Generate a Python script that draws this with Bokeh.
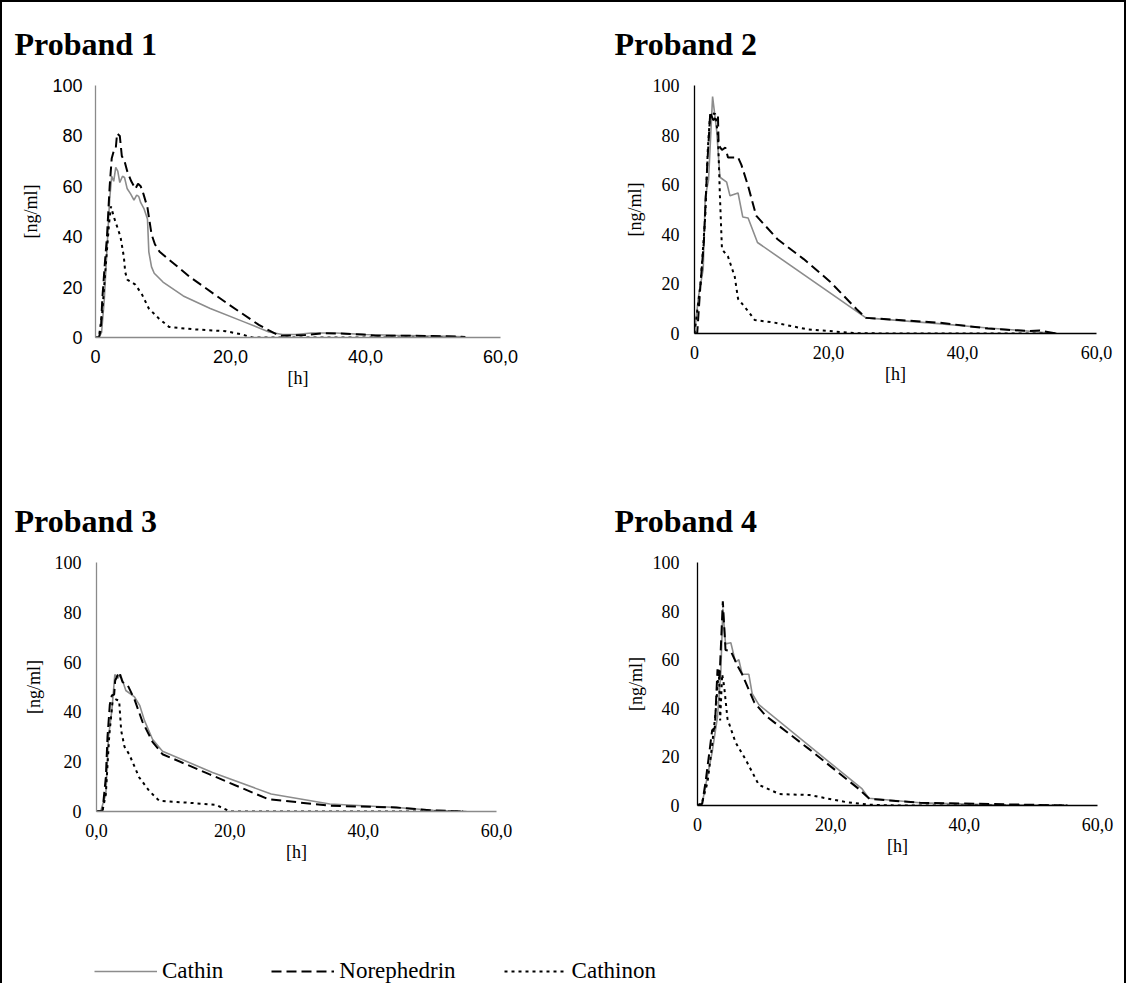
from bokeh.plotting import figure
from bokeh.layouts import column, row
from bokeh.models import FixedTicker, Legend, LegendItem
from bokeh.embed import file_html
from bokeh.resources import INLINE

# ---------------- data ----------------
x_ticks = [0, 20, 40, 60]
x_tick_labels = ["0", "20,0", "40,0", "60,0"]
x_tick_labels_p3 = ["0,0", "20,0", "40,0", "60,0"]
y_ticks = [0, 20, 40, 60, 80, 100]
series_names = ["Cathin", "Norephedrin", "Cathinon"]
panel_titles = ["Proband 1", "Proband 2", "Proband 3", "Proband 4"]

# Proband 1
p1_cathin_t = [0, 0.5, 0.9, 1.3, 1.7, 2.1, 2.4, 2.7, 3.0, 3.3, 3.6, 4.0, 4.3, 4.7, 5.2, 5.7, 6.1, 6.4, 6.7, 7.2, 7.7, 7.9, 8.3, 8.7, 10, 13, 17, 22, 25.7, 27.7, 29.6, 32, 35.6, 40, 44.4, 48, 52, 54.6]
p1_cathin_v = [0, 0, 2, 15, 35, 55, 64, 62, 67.5, 66, 61.5, 64, 63.5, 59, 57, 54.5, 56.5, 56, 53.5, 51, 47, 34, 28, 25.5, 22, 16.5, 11.5, 6.2, 2.2, 1.2, 1.2, 1.8, 1.8, 1.2, 0.9, 0.7, 0.5, 0.3]
p1_nore_t = [0, 0.5, 0.8, 1.0, 1.4, 1.7, 2.1, 2.4, 2.7, 3.0, 3.2, 3.6, 3.9, 4.3, 4.7, 5.3, 5.9, 6.3, 6.7, 7.1, 7.7, 8.3, 8.8, 9.5, 14, 19.8, 24.2, 27.2, 31, 34, 37, 39.5, 41.5, 46, 50, 52, 54.8]
p1_nore_v = [0, 0, 3, 15, 30, 40, 60, 71, 74, 75, 81, 80, 72, 70, 66, 62, 59, 61, 60, 57, 51.5, 41, 37, 34, 24, 13, 5, 0.7, 1, 1.7, 1.5, 1.2, 0.7, 0.7, 0.6, 0.5, 0.2]
p1_cathinon_t = [0, 0.5, 1.0, 1.5, 2.0, 2.3, 2.7, 3.7, 4.2, 4.4, 4.7, 5.9, 6.9, 7.9, 9.4, 10.9, 14.3, 19.3, 21.7, 23.2, 30, 40, 50, 54.6]
p1_cathinon_v = [0, 0, 10, 28, 45, 52, 48, 40, 32, 26, 23, 21, 17, 11.5, 7.5, 4.2, 3.3, 2.5, 1.2, 0, 0, 0, 0, 0]

# Proband 2
p2_cathin_t = [0, 0.6, 1.3, 1.6, 2.1, 2.7, 3.3, 3.8, 4.8, 5.3, 6.5, 7.2, 8.0, 9.4, 25.6, 36.4, 43.8, 48.7, 54]
p2_cathin_v = [0, 15, 26, 55, 62, 95.5, 82, 63, 61, 55.5, 56.7, 47, 46.6, 36.7, 6.3, 4, 2.2, 1.2, 0]
p2_nore_t = [0, 0.4, 0.9, 1.4, 1.9, 2.35, 2.8, 3.5, 3.6, 4.1, 4.6, 5.0, 6.5, 7.0, 8.0, 9.2, 12.4, 16.3, 20.2, 24.2, 25.6, 36.4, 43.8, 49.7, 51.5, 54]
p2_nore_v = [0, 0, 20, 37, 68, 89, 86, 88, 76, 74, 75, 71, 71, 68, 59.5, 47.5, 38, 30, 21, 9.8, 6.3, 4.4, 2, 1, 1.2, 0]
p2_cathinon_t = [0, 0.9, 1.6, 2.0, 2.35, 3.1, 3.5, 3.8, 4.1, 5.0, 6.0, 6.5, 8.0, 9.0, 11.9, 16.8, 24.2, 30, 40, 50, 54]
p2_cathinon_v = [0, 20, 47, 75, 89, 88.5, 80, 55, 34, 31, 23, 14, 9, 5.4, 4.4, 1.7, 0.1, 0, 0, 0, 0]

# Proband 3
p3_cathin_t = [0, 0.65, 1.4, 1.8, 2.3, 2.75, 3.2, 3.6, 4.4, 5.7, 6.5, 7.2, 8.4, 9.9, 17.4, 26.2, 35, 45, 50.5, 55.5]
p3_cathin_v = [0, 0.3, 7, 30, 40.5, 55, 53.5, 55, 48.6, 46, 42.5, 36.5, 29, 24.2, 15.7, 7, 3, 1.6, 0.5, 0]
p3_nore_t = [0, 0.9, 1.4, 1.65, 2.0, 2.3, 2.65, 2.8, 3.4, 3.9, 4.7, 5.7, 6.9, 8.4, 9.9, 16.9, 25.7, 35, 45, 50, 55]
p3_nore_v = [0, 0.3, 13.7, 30, 43, 46.6, 47, 52.6, 56, 52, 50.6, 45, 36, 28, 23, 15, 5, 2.3, 1.6, 0.5, 0]
p3_cathinon_t = [0, 0.9, 1.4, 1.9, 2.4, 2.9, 3.4, 3.7, 4.2, 4.9, 6.4, 7.9, 9.4, 13.4, 17.9, 20, 25, 35, 45, 55]
p3_cathinon_v = [0, 0.3, 7, 30, 44, 45, 44.5, 32.5, 26, 23, 13.7, 8.3, 4.3, 3.6, 2.7, 0, 0, 0, 0, 0]

# Proband 4
p4_cathin_t = [0, 0.7, 1.2, 2.2, 3.0, 3.5, 3.8, 4.2, 5.0, 5.7, 6.2, 6.7, 7.7, 8.2, 9.2, 24.7, 25.7, 33.4, 44.4, 55.5]
p4_cathin_v = [0, 0.7, 8, 22, 36.5, 55, 81, 66.5, 67, 59, 60, 54, 54, 46, 41.5, 6.8, 3, 1.1, 0.3, 0]
p4_nore_t = [0, 0.7, 1.2, 2.2, 2.6, 3.0, 3.3, 3.8, 4.2, 5.0, 6.0, 6.7, 8.5, 10.2, 16.7, 24.2, 25.8, 33.4, 42, 55.5]
p4_nore_v = [0, 0.7, 9.5, 31, 32, 56, 52, 84, 64, 63.5, 57.5, 54, 42.5, 37, 23.3, 6.8, 2.7, 1.1, 0.7, 0]
p4_cathinon_t = [0, 0.7, 1.5, 2.2, 2.7, 3.2, 3.4, 3.7, 4.0, 4.5, 5.7, 7.2, 9.2, 12.3, 16.8, 22.3, 25.8, 30, 40, 50, 55.5]
p4_cathinon_v = [0, 1.4, 9.5, 25, 38, 56, 35, 54, 49, 35.6, 26, 19, 8.5, 4.7, 4.3, 1.4, 0.3, 0, 0, 0, 0]

panels_data = [
    [(p1_cathin_t, p1_cathin_v), (p1_nore_t, p1_nore_v), (p1_cathinon_t, p1_cathinon_v)],
    [(p2_cathin_t, p2_cathin_v), (p2_nore_t, p2_nore_v), (p2_cathinon_t, p2_cathinon_v)],
    [(p3_cathin_t, p3_cathin_v), (p3_nore_t, p3_nore_v), (p3_cathinon_t, p3_cathinon_v)],
    [(p4_cathin_t, p4_cathin_v), (p4_nore_t, p4_nore_v), (p4_cathinon_t, p4_cathinon_v)],
]

# ---------------- styles ----------------
SERIF = "Liberation Serif"
SANS = "Liberation Sans"
line_styles = [
    dict(line_color="#8c8c8c", line_width=1.6, line_dash="solid"),
    dict(line_color="black", line_width=2.0, line_dash="10 5"),
    dict(line_color="black", line_width=2.0, line_dash="3 4"),
]

ROW_H = 473
# per panel geometry: (fig width, border left, frame width, frame top offset, frame height,
#                      tick font, axis color, y tick standoff, y label standoff, x labels, title standoff)
geo = [
    (563, 93, 405, 83, 252, SANS, "#8a8a8a", 13, 8, x_tick_labels, 44),
    (559, 129, 402, 83, 248, SERIF, "black", 15, 5, x_tick_labels, 44),
    (563, 94, 400, 85, 249, SERIF, "#8a8a8a", 15, 8, x_tick_labels_p3, 44),
    (559, 132, 400, 87, 243, SERIF, "black", 18, 4, x_tick_labels, 44),
]

figs = []
for i, (W, bl, fw, ft, fh, tfont, acol, ystand, ylstand, xlabels, tstand) in enumerate(geo):
    p = figure(width=W, height=ROW_H, x_range=(0, 60), y_range=(0, 100),
               output_backend="svg", toolbar_location=None,
               min_border_left=bl, min_border_right=W - bl - fw,
               min_border_top=ft, min_border_bottom=ROW_H - ft - fh,
               frame_width=fw, frame_height=fh)
    p.outline_line_color = None
    p.xgrid.visible = False
    p.ygrid.visible = False
    p.background_fill_color = "white"
    p.border_fill_color = "white"

    p.title.text = panel_titles[i]
    p.title.align = "left"
    p.title.vertical_align = "top"
    p.title.offset = 22 - (10 + bl) if i % 2 == 0 else 622 - (573 + bl)
    p.title.text_font = SERIF
    p.title.text_font_size = "32px"
    p.title.text_font_style = "bold"
    p.title.text_color = "black"
    p.title.standoff = tstand

    for (t, v), st in zip(panels_data[i], line_styles):
        p.line(t, v, **st)

    for ax in (p.xaxis, p.yaxis):
        ax.axis_line_color = acol
        ax.axis_line_width = 1.3
        ax.major_tick_line_color = None
        ax.minor_tick_line_color = None
        ax.major_tick_out = 0
        ax.major_tick_in = 0
        ax.major_label_text_font = tfont
        ax.major_label_text_font_size = "18px"
        ax.major_label_text_color = "black"
        ax.axis_label_text_font = SERIF
        ax.axis_label_text_font_size = "18px"
        ax.axis_label_text_font_style = "normal"
        ax.axis_label_text_color = "black"
    p.xaxis.ticker = FixedTicker(ticks=x_ticks)
    p.xaxis.major_label_overrides = {t: l for t, l in zip(x_ticks, xlabels)}
    p.xaxis.axis_label = "[h]"
    p.xaxis.major_label_standoff = 12
    p.xaxis.axis_label_standoff = 2
    p.yaxis.ticker = FixedTicker(ticks=y_ticks)
    p.yaxis.major_label_overrides = {t: str(t) for t in y_ticks}
    p.yaxis.axis_label = "[ng/ml]"
    p.yaxis.major_label_standoff = ystand
    p.yaxis.axis_label_standoff = ylstand
    figs.append(p)

# ---------------- legend strip ----------------
LEG_H = 35
leg = figure(width=1122, height=LEG_H, x_range=(0, 60), y_range=(200, 300),
             output_backend="svg", toolbar_location=None,
             min_border=0, frame_width=1122, frame_height=LEG_H)
leg.axis.visible = False
leg.xgrid.visible = False
leg.ygrid.visible = False
leg.outline_line_color = None
items = []
for name, (t, v), st in zip(series_names, panels_data[0], line_styles):
    r = leg.line(t, v, visible=False, **st)
    items.append(LegendItem(label=name, renderers=[r]))
legend = Legend(items=items, orientation="horizontal", location=(92, -1),
                glyph_width=63, glyph_height=20, label_height=20,
                label_standoff=5, spacing=48, padding=0, margin=0,
                border_line_color=None, background_fill_alpha=0,
                label_text_font=SERIF, label_text_font_size="23px",
                label_text_color="black", label_text_baseline="middle")
leg.add_layout(legend)

layout = column(row(figs[0], figs[1]), row(figs[2], figs[3]), leg,
                styles={"border-top": "2px solid black",
                        "border-left": "2px solid black",
                        "border-right": "2px solid black"})

open("out.html", "w").write(file_html(layout, INLINE))
